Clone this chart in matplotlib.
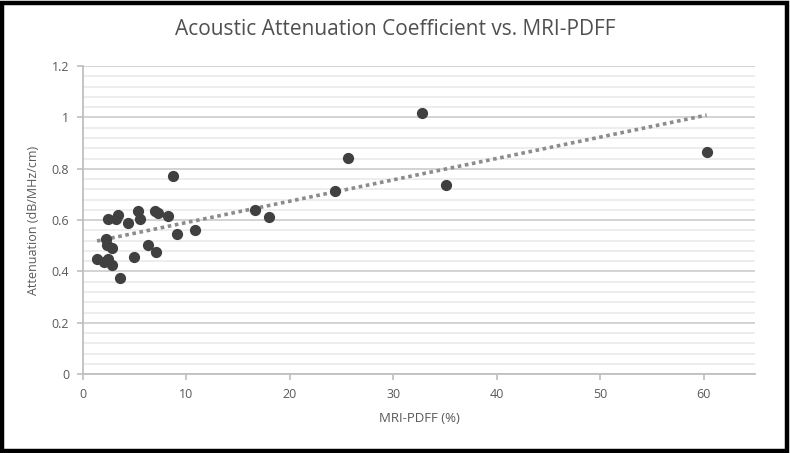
import matplotlib.pyplot as plt
import numpy as np
from matplotlib.patches import Rectangle
from matplotlib.ticker import MultipleLocator, FuncFormatter

# MRI-PDFF (%) vs attenuation (dB/MHz/cm)
pdff = [1.36, 2.0, 2.45, 2.78, 2.2, 2.3, 2.8, 2.45, 3.2, 3.42, 3.55, 4.33, 4.94,
        5.3, 5.52, 6.33, 7.04, 6.98, 7.3, 8.24, 8.66, 9.1, 10.82, 16.6, 18.0,
        24.35, 25.65, 32.75, 35.1, 60.3]
atten = [0.447, 0.437, 0.45, 0.425, 0.528, 0.505, 0.493, 0.604, 0.604, 0.619,
         0.373, 0.590, 0.457, 0.634, 0.604, 0.504, 0.475, 0.635, 0.628, 0.618,
         0.771, 0.547, 0.561, 0.640, 0.613, 0.713, 0.843, 1.016, 0.736, 0.865]

plt.rcParams['font.family'] = ['Open Sans', 'DejaVu Sans']

fig = plt.figure(figsize=(7.9, 4.53), dpi=100)
ax = fig.add_axes([0.105, 0.174, 0.851, 0.680])

# linear trendline over the data range
coef = np.polyfit(pdff, atten, 1)
xs = np.array([min(pdff), max(pdff)])
ax.plot(xs, np.polyval(coef, xs), linestyle=(0, (1, 1)), color='#8c8c8c',
        linewidth=2.6, zorder=2)

ax.scatter(pdff, atten, s=50, color='#404040', zorder=3)

ax.set_xlim(0, 65)
ax.set_ylim(0, 1.2)
ax.xaxis.set_major_locator(MultipleLocator(10))
ax.yaxis.set_major_locator(MultipleLocator(0.2))
ax.yaxis.set_minor_locator(MultipleLocator(0.04))
ax.yaxis.set_major_formatter(FuncFormatter(lambda v, p: f'{v:g}'))

ax.grid(True, which='major', axis='y', color='#d0d0d0', linewidth=1.3)
ax.grid(True, which='minor', axis='y', color='#ececec', linewidth=1.3)
ax.set_axisbelow(True)

for side in ['top', 'right']:
    ax.spines[side].set_visible(False)
for side in ['left', 'bottom']:
    ax.spines[side].set_color('#bfbfbf')
    ax.spines[side].set_linewidth(1.3)
ax.tick_params(axis='both', which='major', colors='#bfbfbf', labelcolor='#595959',
               labelsize=9, length=4, width=1.2, pad=6)
ax.tick_params(axis='y', which='minor', length=0)

ax.set_xlabel('MRI-PDFF (%)', color='#595959', fontsize=9.5, labelpad=8)
ax.set_ylabel('Attenuation (dB/MHz/cm)', color='#595959', fontsize=9, labelpad=8)
fig.suptitle('Acoustic Attenuation Coefficient vs. MRI-PDFF', y=0.958,
             color='#505050', fontsize=15)

fig.patches.append(Rectangle((0.003, 0.005), 0.993, 0.989, transform=fig.transFigure,
                             fill=False, edgecolor='black', linewidth=3.2))

fig.savefig('out.png', dpi=100)
